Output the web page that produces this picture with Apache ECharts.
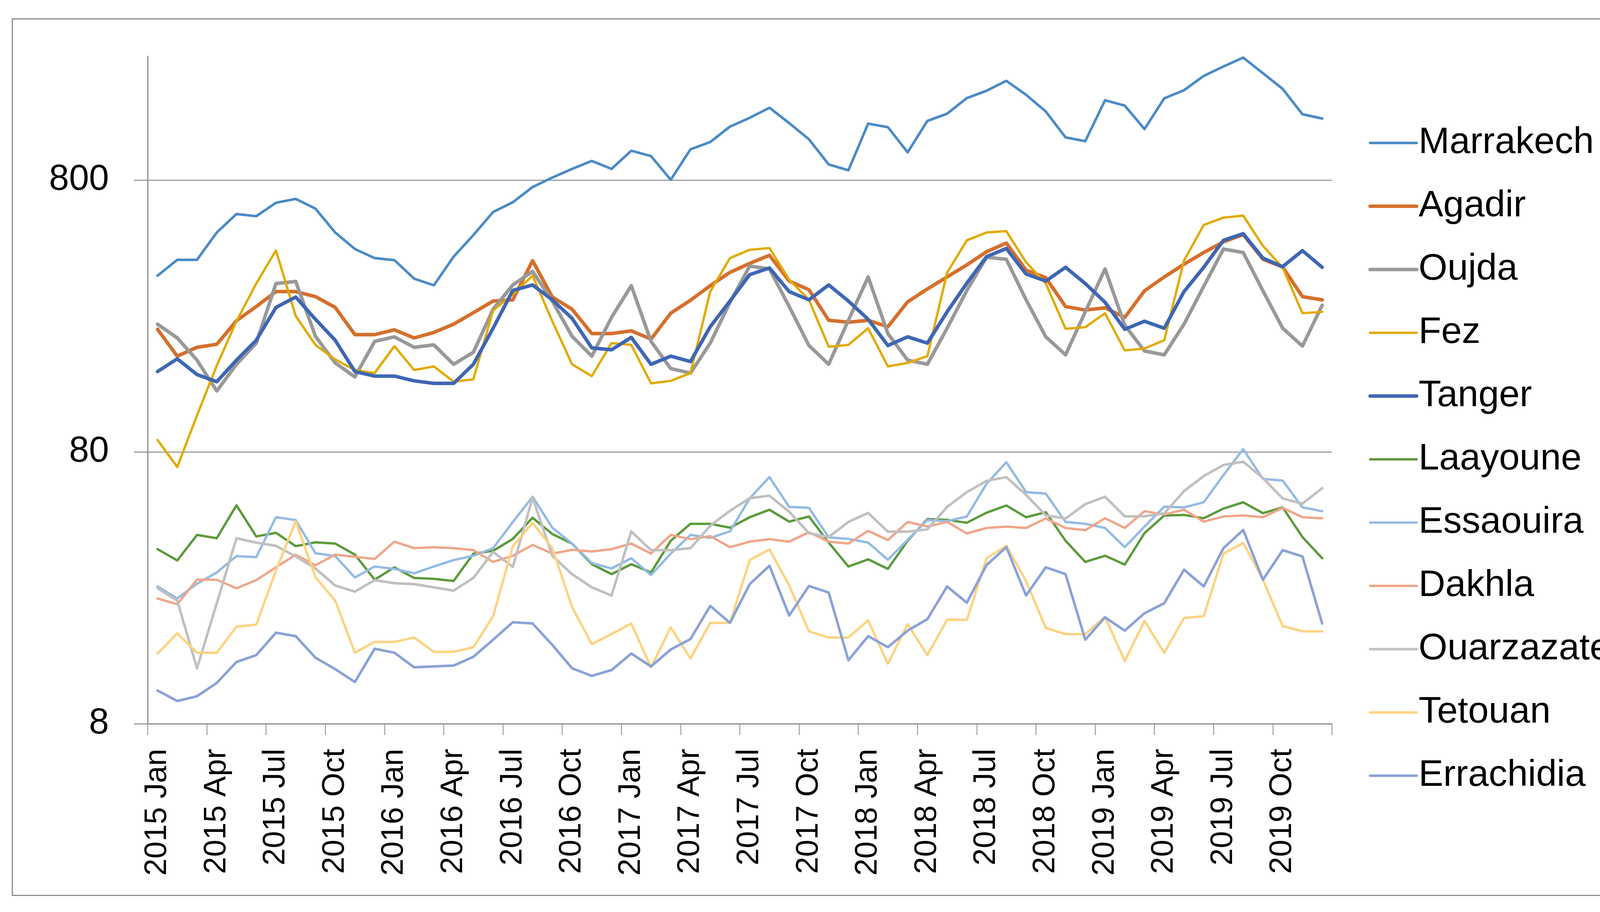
<!DOCTYPE html>
<html><head><meta charset="utf-8">
<script src="https://cdn.jsdelivr.net/npm/echarts@6/dist/echarts.min.js"></script>
<style>
html,body{margin:0;padding:0;background:#fff;width:4211px;height:2335px;overflow:hidden}
#c{position:absolute;left:0;top:0;width:4211px;height:2335px}
#frame{position:absolute;left:30px;top:47px;width:4132px;height:2241px;border:3px solid #8c8c8c;pointer-events:none}
</style></head><body><div id="c"></div><div id="frame"></div>
<script>
const years = ['2015','2016','2017','2018','2019'];
const monthNames = ['Jan','Feb','Mar','Apr','May','Jun','Jul','Aug','Sep','Oct','Nov','Dec'];
const categories = [];
years.forEach(y => monthNames.forEach(m => categories.push(y + ' ' + m)));
const yTicks = [8, 80, 800];

const marrakech = [356,407,407,513,600,589,660,682,628,513,446,413,406,347,328,418,502,610,663,754,817,879,941,879,1026,980,802,1038,1104,1258,1355,1476,1296,1130,913,869,1290,1252,1012,1320,1403,1602,1704,1854,1647,1430,1148,1112,1573,1503,1232,1599,1712,1932,2094,2257,1977,1731,1397,1347];
const agadir = [226,180,194,199,243,274,311,311,298,272,216,216,225,210,220,236,260,287,290,404,297,268,218,218,223,208,259,289,327,366,395,423,340,316,244,240,244,231,285,318,352,390,436,469,373,350,274,266,271,250,313,352,392,433,474,504,409,383,298,290];
const oujda = [236,210,174,134,168,201,333,339,213,170,151,204,212,194,198,168,186,268,329,369,287,213,180,250,327,204,162,156,201,284,386,377,274,197,168,244,352,218,174,168,228,314,416,409,290,212,182,262,377,234,188,182,236,325,446,433,313,228,196,277];
const fez = [88.5,70.4,109,166,242,333,441,253,198,175,160,156,196,160,165,145,148,265,304,356,242,168,152,201,198,143,146,156,311,413,443,450,344,290,195,198,228,165,170,180,365,480,513,519,399,333,227,230,259,189,192,206,404,547,582,592,458,381,259,262];
const tanger = [158,176,154,145,174,206,272,297,246,206,158,152,152,146,143,143,168,228,314,329,290,248,193,190,211,168,180,172,231,287,359,380,311,290,329,287,246,197,212,201,262,334,418,448,361,340,382,333,284,226,242,228,311,382,480,508,413,384,440,382];
const laayoune = [35.1,31.9,39.6,38.5,50.9,39.1,40.3,36.0,37.2,36.8,33.5,27.1,30.1,27.5,27.3,26.8,33.8,34.6,38.3,45.8,39.9,36.8,30.9,28.4,30.9,28.8,37.7,43.5,43.5,42.1,46.0,49.0,44.3,46.3,37.1,30.3,32.2,29.7,37.7,45.3,45.0,43.9,47.8,50.8,46.0,48.0,37.7,31.5,33.2,30.8,40.2,46.7,46.9,45.6,49.5,52.2,47.6,50.0,38.9,32.5];
const essaouira = [25.6,23.1,26.2,28.8,33.1,32.8,46.0,44.9,33.9,33.1,27.6,30.3,29.7,28.6,30.3,32.0,33.2,35.4,44.2,54.7,42.1,36.8,31.2,29.8,32.5,28.2,33.8,39.6,38.6,40.8,54.0,64.6,50.2,49.8,38.8,38.3,37.1,32.1,38.0,44.9,44.5,46.3,61.1,73.3,56.9,56.2,44.2,43.5,42.0,35.7,42.5,50.3,50.0,52.2,65.7,81.9,63.6,62.8,50.0,48.4];
const dakhla = [23.1,22.0,27.1,27.1,25.2,27.0,30.1,33.5,30.6,33.5,32.9,32.3,37.4,35.4,35.7,35.4,34.8,31.5,33.2,36.4,33.8,34.9,34.4,35.1,36.8,33.8,39.6,38.2,39.2,35.7,37.4,38.2,37.4,40.5,37.4,36.8,41.0,37.9,44.2,42.5,44.2,40.1,42.0,42.5,42.0,45.5,42.0,41.2,45.6,42.0,48.4,47.1,49.0,44.3,46.3,46.7,46.0,49.8,46.0,45.6];
const ouarzazate = [25.2,22.7,12.8,22.2,38.5,37.1,36.1,33.0,29.8,25.8,24.5,27.0,26.3,26.1,25.4,24.7,27.5,34.3,30.2,54.3,33.2,28.4,25.4,23.7,40.8,34.8,34.8,35.4,42.8,48.6,54.0,55.2,48.2,40.2,38.9,44.2,47.7,40.7,40.7,41.5,50.2,56.9,62.6,64.6,55.6,46.7,45.5,51.4,54.7,46.3,46.4,47.5,57.4,65.2,71.6,73.6,64.1,53.9,51.6,58.8];
const tetouan = [14.5,17.2,14.6,14.6,18.2,18.5,29.3,44.5,27.7,22.7,14.6,16.0,16.0,16.6,14.7,14.7,15.3,19.9,36.0,43.9,35.4,21.5,15.7,17.1,18.7,12.9,18.1,13.9,18.8,18.8,32.0,35.0,25.8,17.5,16.6,16.6,19.2,13.3,18.6,14.3,19.3,19.3,32.5,36.1,26.8,18.0,17.1,17.1,19.8,13.6,19.1,14.6,19.6,19.9,33.8,37.0,27.1,18.3,17.5,17.5];
const errachidia = [10.6,9.7,10.1,11.3,13.5,14.3,17.3,16.8,14.0,12.7,11.4,15.1,14.6,12.9,13.0,13.1,14.1,16.3,18.9,18.7,15.6,12.8,12.0,12.6,14.5,13.0,15.0,16.4,21.7,18.8,26.1,30.5,20.0,25.7,24.3,13.7,16.8,15.3,17.6,19.4,25.6,22.3,30.7,35.7,23.7,30.1,28.4,16.3,19.7,17.6,20.4,22.2,29.5,25.6,35.4,41.3,27.1,34.8,33.0,18.7];

const seriesList = [
  ['Marrakech', marrakech, '#4A8AC6', 6.5],
  ['Agadir', agadir, '#D66F2C', 9],
  ['Oujda', oujda, '#999999', 9],
  ['Fez', fez, '#E2AA00', 6],
  ['Tanger', tanger, '#3E66B3', 9],
  ['Laayoune', laayoune, '#5B9A3B', 6],
  ['Essaouira', essaouira, '#93BBE4', 6],
  ['Dakhla', dakhla, '#F0A68A', 6],
  ['Ouarzazate', ouarzazate, '#C0C0C0', 6.5],
  ['Tetouan', tetouan, '#FFD27F', 6],
  ['Errachidia', errachidia, '#8BA2D8', 6.5]
];

const FONT = 'Liberation Sans';
const GRAY = '#8c8c8c';
const chart = echarts.init(document.getElementById('c'), null, {renderer: 'canvas'});
chart.setOption({
  animation: false,
  backgroundColor: '#fff',
  grid: {left: 378, top: 144, width: 3032, height: 1709, containLabel: false},
  legend: {
    orient: 'vertical', left: 3498, top: 311,
    itemWidth: 119, itemHeight: 20, itemGap: 62,
    itemStyle: {opacity: 0},
    lineStyle: {width: 'inherit'},
    textStyle: {fontSize: 95, color: '#000', fontFamily: FONT, lineHeight: 100},
    data: seriesList.map(s => s[0])
  },
  xAxis: {
    type: 'category', data: categories, boundaryGap: true,
    axisLine: {show: true, onZero: false, lineStyle: {color: GRAY, width: 3}},
    axisTick: {show: true, interval: 2, length: 29, lineStyle: {color: GRAY, width: 2}},
    axisLabel: {interval: 2, rotate: 90, margin: 64, fontSize: 79, color: '#000', fontFamily: FONT},
    splitLine: {show: false}
  },
  yAxis: {
    type: 'log', logBase: 10, min: 8, max: 2283,
    axisLine: {show: true, lineStyle: {color: GRAY, width: 3}},
    axisTick: {show: true, length: 35, customValues: yTicks, lineStyle: {color: GRAY, width: 2.5}},
    axisLabel: {customValues: yTicks, margin: 99, fontSize: 92, color: '#000', fontFamily: FONT, formatter: v => String(Math.round(v))},
    splitLine: {show: true, lineStyle: {color: GRAY, width: 2.5}}
  },
  series: seriesList.map(s => ({
    name: s[0], type: 'line', data: s[1], symbol: 'none', showSymbol: false,
    lineStyle: {color: s[2], width: s[3], cap: 'round', join: 'round'},
    itemStyle: {color: s[2]},
    emphasis: {disabled: true}
  }))
});
</script></body></html>
